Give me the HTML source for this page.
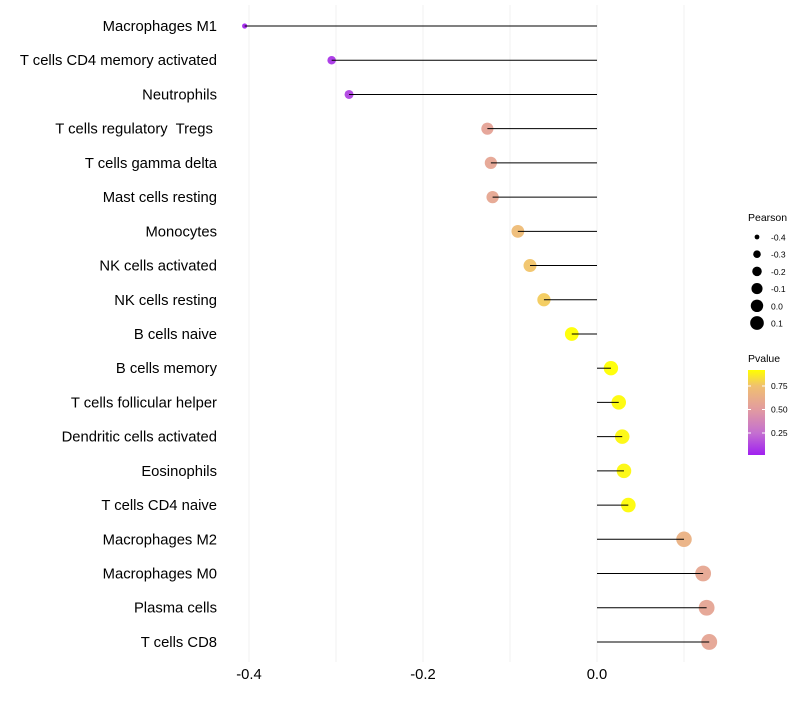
<!DOCTYPE html>
<html><head><meta charset="utf-8"><style>
body{margin:0;background:#fff;font-family:"Liberation Sans",sans-serif}
</style></head><body>
<svg id="chart" width="800" height="700" xmlns="http://www.w3.org/2000/svg" font-family="Liberation Sans, sans-serif"></svg>
<script>
const categories=["Macrophages M1","T cells CD4 memory activated","Neutrophils","T cells regulatory  Tregs ","T cells gamma delta","Mast cells resting","Monocytes","NK cells activated","NK cells resting","B cells naive","B cells memory","T cells follicular helper","Dendritic cells activated","Eosinophils","T cells CD4 naive","Macrophages M2","Macrophages M0","Plasma cells","T cells CD8"];
const pearson=[-0.405,-0.305,-0.285,-0.126,-0.122,-0.120,-0.091,-0.077,-0.061,-0.029,0.016,0.025,0.029,0.031,0.036,0.100,0.122,0.126,0.129];
const pvalue=[0.03,0.08,0.12,0.55,0.57,0.58,0.72,0.76,0.78,0.92,0.93,0.91,0.9,0.9,0.91,0.65,0.58,0.56,0.56];
const xTicks=[-0.4,-0.2,0.0];
const xMinor=[-0.3,-0.1,0.1];
const sizeLegend=[-0.4,-0.3,-0.2,-0.1,0.0,0.1];
const pTicks=[0.75,0.50,0.25];

const svg=document.getElementById('chart');
const NS='http://www.w3.org/2000/svg';
function mk(t,a,p){const e=document.createElementNS(NS,t);for(const k in a)e.setAttribute(k,a[k]);(p||svg).appendChild(e);return e;}
const x=v=>597+v*870;
const y=i=>26+i*34.22;
const rad=v=>Math.sqrt(4+Math.max(0,(v+0.405))/0.535*50)+0.6;
const stops=[[0.016,[160,32,240]],[0.25,[196,112,208]],[0.5,[226,155,160]],[0.75,[240,192,112]],[0.92,[255,255,0]]];
function col(p){if(p<=stops[0][0])return `rgb(${stops[0][1]})`;for(let i=1;i<stops.length;i++){if(p<=stops[i][0]){const [a,ca]=stops[i-1],[b,cb]=stops[i];const t=(p-a)/(b-a);return 'rgb('+ca.map((c,j)=>Math.round(c+(cb[j]-c)*t)).join(',')+')';}}return 'rgb(255,255,0)';}

const grid=mk('g',{});
xTicks.concat(xMinor).forEach(v=>{mk('line',{x1:x(v),x2:x(v),y1:5,y2:662,stroke:'#f2f2f2','stroke-width':1},grid);});
xTicks.forEach(v=>{const t=mk('text',{x:x(v),y:679,'text-anchor':'middle','font-size':14.8,fill:'#000'});t.textContent=v.toFixed(1);});
categories.forEach((c,i)=>{
 const t=mk('text',{x:217,y:y(i)+5,'text-anchor':'end','font-size':14.8,fill:'#000','xml:space':'preserve'});t.style.whiteSpace='pre';t.textContent=c;
 
 const d=mk('circle',{cx:x(pearson[i]),cy:y(i),r:rad(pearson[i]),fill:col(pvalue[i]),'fill-opacity':0.95});
 
 const l=mk('line',{x1:x(0),x2:x(pearson[i]),y1:y(i),y2:y(i),stroke:'#000','stroke-width':1});
 
});
const sl=mk('g',{});
let tt=mk('text',{x:748,y:221,'font-size':10.5},sl);tt.textContent='Pearson';
sizeLegend.forEach((v,i)=>{const cy=237+i*17.2;mk('circle',{cx:757,cy:cy,r:rad(v)*0.88,fill:'#000'},sl);const t=mk('text',{x:771,y:cy+3.5,'font-size':8.5},sl);t.textContent=v.toFixed(1);});
const cl=mk('g',{});
tt=mk('text',{x:748,y:362,'font-size':10.5},cl);tt.textContent='Pvalue';
const defs=mk('defs',{});const g=mk('linearGradient',{id:'pg',x1:0,y1:1,x2:0,y2:0},defs);
stops.forEach(s=>mk('stop',{offset:(s[0]-0.016)/(0.92-0.016),'stop-color':`rgb(${s[1]})`},g));
mk('rect',{x:748,y:370,width:17,height:85,fill:'url(#pg)'},cl);
const py=p=>455-(p-0.016)/(0.92-0.016)*85;
pTicks.forEach(p=>{mk('line',{x1:748,x2:751,y1:py(p),y2:py(p),stroke:'#fff'},cl);mk('line',{x1:762,x2:765,y1:py(p),y2:py(p),stroke:'#fff'},cl);const t=mk('text',{x:771,y:py(p)+3,'font-size':8.5},cl);t.textContent=p.toFixed(2);});
</script>
</body></html>
